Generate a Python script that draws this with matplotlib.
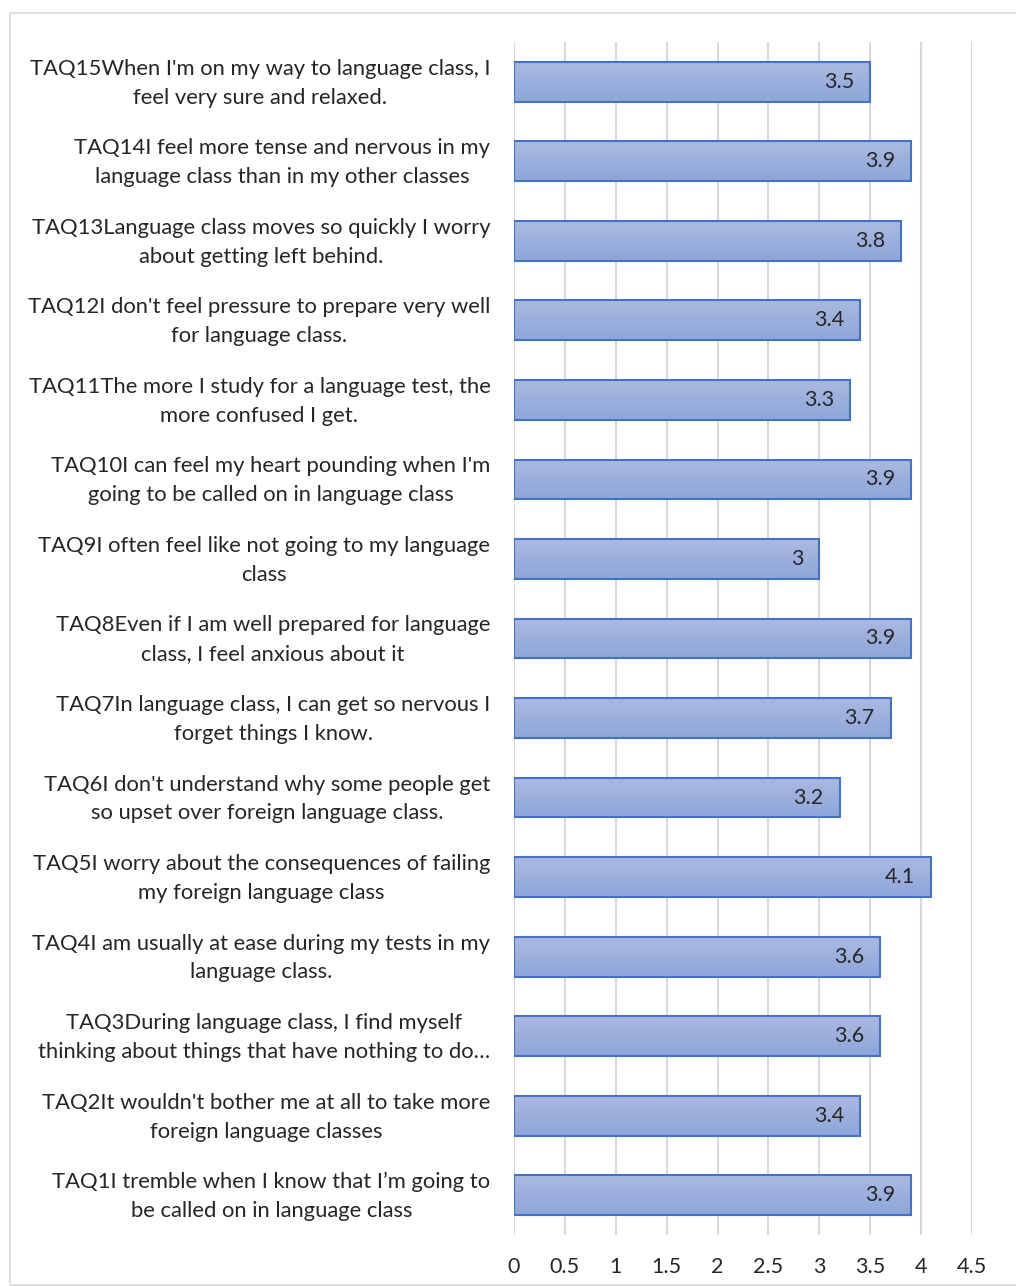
import numpy as np
import matplotlib.pyplot as plt
import matplotlib.transforms as mtransforms
from matplotlib.patches import Rectangle

plt.rcParams['font.family'] = ['Lato', 'DejaVu Sans']

# items from bottom (TAQ1) to top (TAQ15)
labels = [
    "TAQ1I tremble when I know that I\u2019m going to\nbe called on in language class",
    "TAQ2It wouldn't bother me at all to take more\nforeign language classes",
    "TAQ3During language class, I find myself\nthinking about things that have nothing to do\u2026",
    "TAQ4I am usually at ease during my tests in my\nlanguage class.",
    "TAQ5I worry about the consequences of failing\nmy foreign language class",
    "TAQ6I don't understand why some people get\nso upset over foreign language class.",
    "TAQ7In language class, I can get so nervous I\nforget things I know.",
    "TAQ8Even if I am well prepared for language\nclass, I feel anxious about it",
    "TAQ9I often feel like not going to my language\nclass",
    "TAQ10I can feel my heart pounding when I'm\ngoing to be called on in language class",
    "TAQ11The more I study for a language test, the\nmore confused I get.",
    "TAQ12I don't feel pressure to prepare very well\nfor language class.",
    "TAQ13Language class moves so quickly I worry\nabout getting left behind.",
    "TAQ14I feel more tense and nervous in my\nlanguage class than in my other classes",
    "TAQ15When I'm on my way to language class, I\nfeel very sure and relaxed.",
]
values = [3.9, 3.4, 3.6, 3.6, 4.1, 3.2, 3.7, 3.9, 3.0, 3.9, 3.3, 3.4, 3.8, 3.9, 3.5]
value_text = ["3.9", "3.4", "3.6", "3.6", "4.1", "3.2", "3.7", "3.9", "3", "3.9",
              "3.3", "3.4", "3.8", "3.9", "3.5"]
xticks = [0, 0.5, 1, 1.5, 2, 2.5, 3, 3.5, 4, 4.5]
xtick_labels = ["0", "0.5", "1", "1.5", "2", "2.5", "3", "3.5", "4", "4.5"]

fig = plt.figure(figsize=(10.16, 12.86), dpi=100)
# outer chart frame
fig.patches.append(Rectangle((10 / 1016, 1 - 1285 / 1286), 1.1, 1272 / 1286,
                             transform=fig.transFigure, fill=False,
                             edgecolor='#d9d9d9', linewidth=1.2))

ax = fig.add_axes([514 / 1016, 1 - 1235 / 1286, 458 / 1016, 1193 / 1286])

y = np.arange(len(values))
bars = ax.barh(y, values, height=0.5, color='none', edgecolor='#4472c4',
               linewidth=1.5, zorder=3)

# vertical gradient fill inside each bar, lighter at the top
grad = np.linspace(0, 1, 64).reshape(-1, 1)
cmap = plt.matplotlib.colors.LinearSegmentedColormap.from_list(
    'bar', ['#aab9e1', '#8ea6d9'])
for b in bars:
    x0, y0 = b.get_x(), b.get_y()
    w, h = b.get_width(), b.get_height()
    ax.imshow(grad, cmap=cmap, aspect='auto', extent=(x0, x0 + w, y0, y0 + h),
              zorder=2, interpolation='bicubic')

for yi, v, t in zip(y, values, value_text):
    ax.annotate(t, (v, yi), xytext=(-11.5, 0), textcoords='offset points',
                ha='right', va='center', fontsize=15.5, color='#262626', zorder=4)

ax.set_xlim(0, 4.5)
ax.set_ylim(-0.5, len(values) - 0.5)
ax.set_xticks(xticks)
ax.set_xticklabels(xtick_labels, fontsize=15.5, color='#262626')
ax.set_yticks(y)
ax.set_yticklabels(labels, fontsize=15.8, multialignment='center',
                   linespacing=1.55, color='#262626')
ax.tick_params(axis='y', length=0, pad=17)
ax.tick_params(axis='x', length=0, pad=16)
ax.grid(axis='x', color='#d9d9d9', linewidth=1.5, zorder=0)
ax.set_axisbelow(True)
for s in ax.spines.values():
    s.set_visible(False)

# nudge category labels up a little
shift = mtransforms.ScaledTranslation(0, 5 / 100, fig.dpi_scale_trans)
for lab in ax.get_yticklabels():
    lab.set_transform(lab.get_transform() + shift)

fig.savefig('out.png', dpi=100)
